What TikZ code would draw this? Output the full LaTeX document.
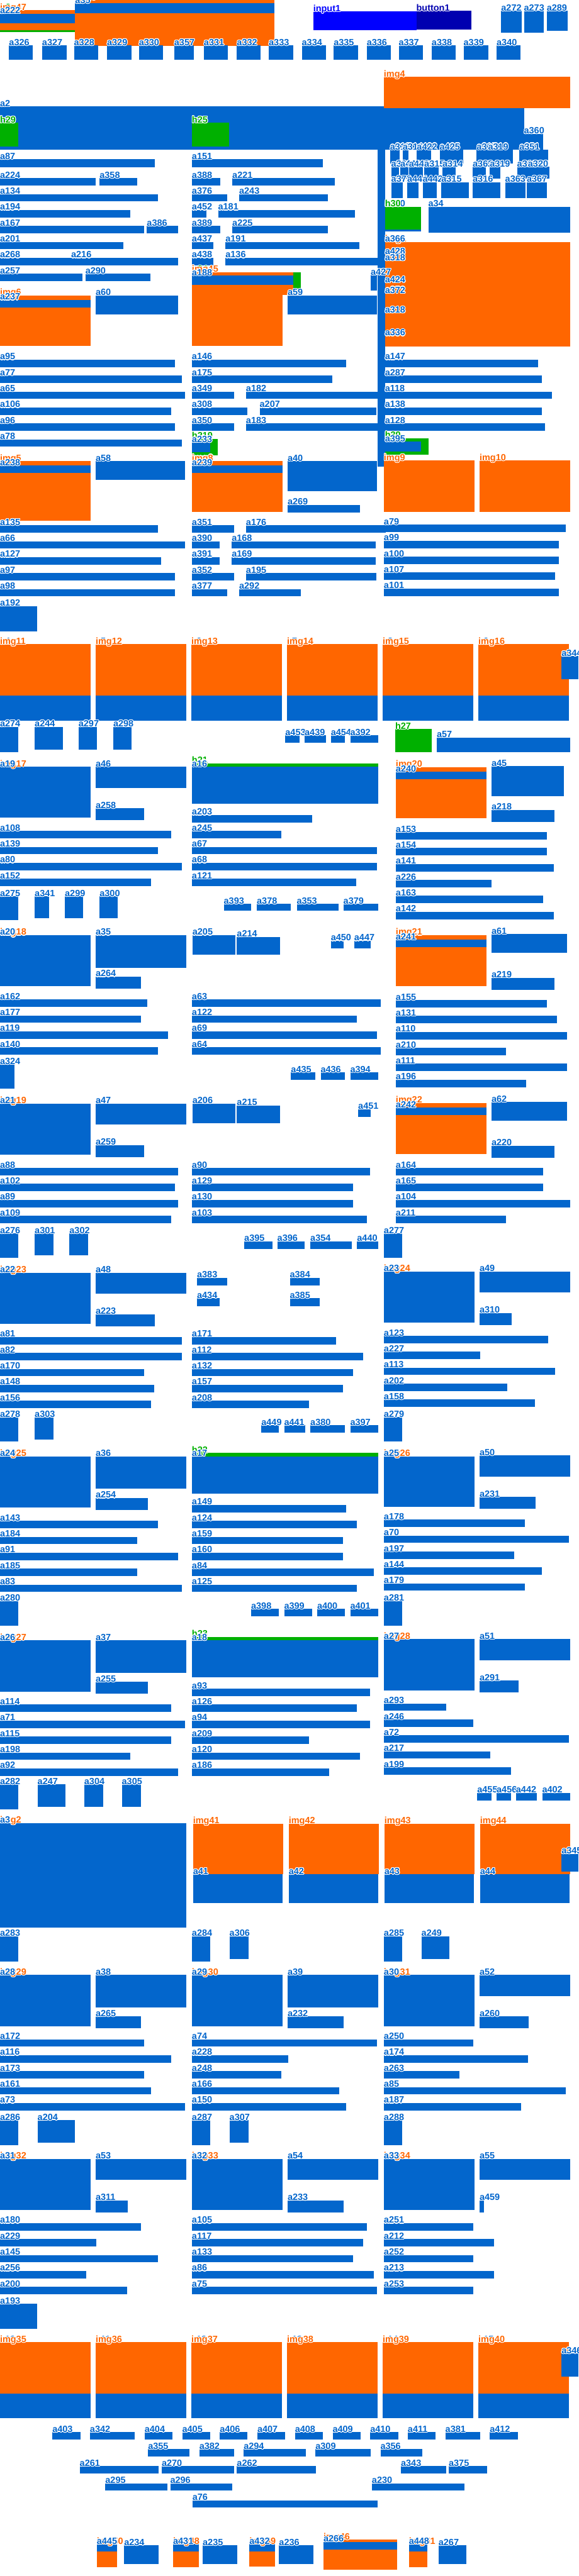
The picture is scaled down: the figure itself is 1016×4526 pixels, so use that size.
\documentclass[tikz,border=0pt]{standalone}
\usepackage{fontspec}
\setmainfont{Liberation Sans}
\usepackage{contour}
\contourlength{1.2pt}
\contournumber{12}
\definecolor{cB}{HTML}{0366CC}
\definecolor{cO}{HTML}{FF6600}
\definecolor{cG}{HTML}{00B000}
\definecolor{cIN}{HTML}{0000FF}
\definecolor{cBT}{HTML}{0000B0}
\tikzset{
 box/.style={inner sep=0pt, outer sep=0pt, draw=none, anchor=north west},
 sB/.style={box, fill=cB}, sO/.style={box, fill=cO}, sG/.style={box, fill=cG},
 sIN/.style={box, fill=cIN}, sBT/.style={box, fill=cBT},
 lbl/.style={inner sep=0pt, outer sep=0pt, anchor=base west, font=\fontsize{16}{16}\selectfont\bfseries},
 lB/.style={lbl, text=cB}, lO/.style={lbl, text=cO}, lG/.style={lbl, text=cG},
 lIN/.style={lbl, text=cIN}, lBT/.style={lbl, text=cBT}
}
\makeatletter
\newcommand\labellist{}
% #1 colour key, #2 name, #3 x1, #4 y1, #5 x2, #6 y2, #7 label
\newcommand\bx[7]{%
 \node[s#1, minimum width={(#5-#3)*1pt}, minimum height={(#6-#4)*1pt}] (#2) at (#3,#4) {};
 \g@addto@macro\labellist{\node[l#1] (#2-l) at (#2.north west) {\contour{white}{#7}};}}
\newcommand\lb[4]{\g@addto@macro\labellist{\node[lB] (#1) at (#2,#3) {\contour{white}{#4}};}}
\makeatother
\newcommand\bb[5]{\bx{B}{#1}{#2}{#3}{#4}{#5}{#1}}
\begin{document}
\begin{tikzpicture}[x=1pt,y=-1pt]
\useasboundingbox (0,0) rectangle (1016,4526);
\fill[white] (0,0) rectangle (1016,4526);
% ---------- top ----------
\bx{G}{h2}{0}{18}{132}{56}{h2}
\bx{O}{img47}{0}{18}{132}{53}{img47}
\bx{B}{a222}{0}{24}{132}{41}{a222}
\bx{O}{img3}{132}{0}{482}{81}{img3}
\bx{B}{a35t}{132}{6}{482}{23}{a35}
\bx{IN}{input1}{550}{20}{731}{53}{input1}
\bx{BT}{button1}{731}{19}{828}{52}{button1}
\bb{a272}{880}{19}{916}{57}
\bb{a273}{920}{19}{955}{57}
\bb{a289}{960}{19}{997}{54}
\bb{a326}{16}{80}{58}{105}
\bb{a327}{74}{80}{117}{105}
\bb{a328}{130}{80}{172}{105}
\bb{a329}{188}{80}{231}{105}
\bb{a330}{244}{80}{286}{105}
\bb{a357}{306}{80}{340}{105}
\bb{a331}{358}{80}{400}{105}
\bb{a332}{416}{80}{458}{105}
\bb{a333}{472}{80}{515}{105}
\bb{a334}{530}{80}{572}{105}
\bb{a335}{586}{80}{629}{105}
\bb{a336}{644}{80}{686}{105}
\bb{a337}{700}{80}{743}{105}
\bb{a338}{758}{80}{800}{105}
\bb{a339}{814}{80}{857}{105}
\bb{a340}{872}{80}{914}{105}
\bb{a2}{0}{187}{920}{263}
\bx{O}{img4}{674}{135}{1001}{190}{img4}
\bb{a360}{920}{235}{954}{263}
\bx{G}{h29}{0}{216}{32}{257}{h29}
\bx{G}{h25}{337}{216}{402}{257}{h25}
% ---------- right column cluster ----------
\bx{B}{av}{663}{263}{676}{820}{}
\bx{B}{r1a}{685}{263}{702}{287}{a313}
\bx{B}{r1b}{707}{263}{717}{287}{a314}
\bx{B}{r1c}{732}{263}{757}{287}{a422}
\bx{B}{r1d}{772}{263}{813}{287}{a425}
\bx{B}{r1e}{837}{263}{857}{287}{a317}
\bx{B}{r1f}{857}{263}{900}{287}{a319}
\bx{B}{r1g}{912}{263}{962}{287}{a351}
\bx{B}{r2a}{687}{293}{700}{314}{a361}
\bx{B}{r2b}{703}{293}{717}{314}{a441}
\bx{B}{r2c}{718}{293}{742}{314}{a443}
\bx{B}{r2d}{745}{293}{770}{314}{a315}
\bx{B}{r2e}{777}{293}{800}{314}{a314}
\bx{B}{r2f}{830}{293}{853}{314}{a362}
\bx{B}{r2g}{860}{293}{878}{314}{a319}
\bx{B}{r2h}{908}{293}{927}{314}{a318}
\bx{B}{r2i}{927}{293}{965}{314}{a320}
\bx{B}{r3a}{687}{320}{707}{348}{a372}
\bx{B}{r3b}{715}{320}{735}{348}{a444}
\bx{B}{r3c}{742}{320}{767}{348}{a442}
\bx{B}{r3d}{775}{320}{823}{348}{a315}
\bx{B}{r3e}{830}{320}{878}{348}{a316}
\bx{B}{r3f}{887}{320}{923}{348}{a363}
\bx{B}{r3g}{925}{320}{960}{348}{a367}
\bx{B}{a369}{676}{363}{739}{407}{a370}
\bx{G}{h30}{676}{363}{739}{403}{h30}
\bb{a34}{752}{363}{1001}{409}
\bx{O}{img1}{676}{425}{1001}{609}{img1}
\lb{a366}{676}{425}{a366}
\lb{a428}{676}{447}{a428}
\lb{a318}{676}{458}{a318}
\lb{a424}{676}{497}{a424}
\lb{a372}{676}{515}{a372}
\lb{a318b}{676}{550}{a318}
\lb{a336b}{676}{590}{a336}
% ---------- block 1 ----------
\bb{a87}{0}{280}{272}{294}
\bb{a151}{337}{280}{567}{294}
\bb{a224}{0}{313}{168}{326}
\bb{a358}{175}{313}{241}{326}
\bb{a388}{337}{313}{387}{326}
\bb{a221}{408}{313}{588}{326}
\bb{a134}{0}{341}{277}{354}
\bb{a376}{337}{341}{399}{354}
\bb{a243}{420}{341}{576}{354}
\bb{a194}{0}{369}{229}{382}
\bb{a452}{337}{369}{362}{382}
\bb{a181}{383}{369}{623}{382}
\bb{a167}{0}{397}{253}{410}
\bb{a386}{258}{397}{313}{410}
\bb{a389}{337}{397}{387}{410}
\bb{a225}{408}{397}{576}{410}
\bb{a201}{0}{425}{217}{438}
\bb{a437}{337}{425}{375}{438}
\bb{a191}{396}{425}{631}{438}
\bb{a268}{0}{453}{313}{466}
\lb{a216}{125}{453}{a216}
\bb{a438}{337}{453}{375}{466}
\bb{a136}{396}{453}{663}{466}
\bb{a257}{0}{481}{145}{494}
\bb{a290}{150}{481}{264}{494}
\bx{G}{h24}{337}{478}{528}{518}{h24}
\bx{O}{img45}{337}{478}{496}{608}{img45}
\bx{O}{img45b}{337}{478}{515}{518}{}
\bb{a188}{337}{484}{515}{501}
\bb{a427}{651}{483}{662}{510}
\bx{O}{img6}{0}{519}{159}{608}{img6}
\bb{a237}{0}{527}{159}{540}
\bb{a60}{168}{519}{313}{552}
\bb{a59}{505}{519}{662}{552}
\bb{a95}{0}{632}{307}{645}
\bb{a146}{337}{632}{608}{645}
\bb{a147}{676}{632}{945}{645}
\bb{a77}{0}{660}{319}{673}
\bb{a175}{337}{660}{583}{673}
\bx{B}{a287t}{676}{660}{951}{673}{a287}
\bb{a65}{0}{688}{325}{701}
\bb{a349}{337}{688}{411}{701}
\bb{a182}{432}{688}{663}{701}
\bb{a118}{676}{688}{969}{701}
\bb{a106}{0}{716}{301}{729}
\bb{a308}{337}{716}{434}{729}
\bb{a207}{456}{716}{661}{729}
\bb{a138}{676}{716}{951}{729}
\bb{a96}{0}{744}{307}{757}
\bb{a350}{337}{744}{411}{757}
\bb{a183}{432}{744}{663}{757}
\bb{a128}{676}{744}{957}{757}
\bb{a78}{0}{772}{319}{785}
\bx{G}{h219}{337}{771}{382}{800}{h219}
\bx{B}{a233t}{337}{777}{369}{794}{a233}
\bx{G}{h39}{676}{770}{752}{799}{h39}
\bx{B}{a395t}{676}{776}{739}{793}{a395}
\bx{O}{img5}{0}{810}{159}{915}{img5}
\bb{a238}{0}{818}{159}{831}
\bb{a58}{168}{810}{325}{843}
\bx{O}{img8}{337}{810}{496}{899}{img8}
\bb{a239}{337}{818}{496}{831}
\bb{a40}{505}{810}{662}{863}
\bb{a269}{505}{887}{632}{900}
\bx{O}{img9}{674}{809}{833}{899}{img9}
\bx{O}{img10}{842}{809}{1001}{899}{img10}
\bb{a135}{0}{923}{277}{936}
\bb{a351}{337}{923}{411}{936}
\bb{a176}{432}{923}{677}{936}
\bb{a79}{674}{922}{993}{935}
\bb{a66}{0}{951}{325}{964}
\bb{a390}{337}{951}{386}{964}
\bb{a168}{407}{951}{660}{964}
\bb{a99}{674}{950}{981}{963}
\bb{a127}{0}{979}{283}{992}
\bb{a391}{337}{979}{386}{992}
\bb{a169}{407}{979}{660}{992}
\bb{a100}{674}{978}{981}{991}
\bb{a97}{0}{1007}{307}{1020}
\bb{a352}{337}{1007}{411}{1020}
\bb{a195}{432}{1007}{661}{1020}
\bb{a107}{674}{1006}{975}{1019}
\bb{a98}{0}{1035}{307}{1048}
\bb{a377}{337}{1035}{399}{1048}
\bb{a292}{420}{1035}{528}{1048}
\bb{a101}{674}{1034}{981}{1047}
\bb{a192}{0}{1065}{65}{1109}
% ---------- image row 1 ----------
\bx{B}{a4}{0}{1132}{159}{1266}{a4}
\bx{O}{img11}{0}{1132}{159}{1222}{img11}
\bx{B}{a5}{168}{1132}{327}{1266}{a5}
\bx{O}{img12}{168}{1132}{327}{1222}{img12}
\bx{B}{a6}{336}{1132}{495}{1266}{a6}
\bx{O}{img13}{336}{1132}{495}{1222}{img13}
\bx{B}{a7}{504}{1132}{663}{1266}{a7}
\bx{O}{img14}{504}{1132}{663}{1222}{img14}
\bx{B}{a8}{672}{1132}{831}{1266}{a8}
\bx{O}{img15}{672}{1132}{831}{1222}{img15}
\bx{B}{a9}{840}{1132}{999}{1266}{a9}
\bx{O}{img16}{840}{1132}{999}{1222}{img16}
\bx{B}{a344}{986}{1153}{1016}{1193}{a344}
\bb{a274}{0}{1277}{32}{1321}
\bb{a244}{61}{1277}{110}{1317}
\bb{a297}{138}{1277}{170}{1317}
\bb{a298}{199}{1277}{231}{1317}
\bb{a453}{501}{1292}{526}{1305}
\bb{a439}{535}{1292}{572}{1305}
\bb{a454}{581}{1292}{606}{1305}
\bb{a392}{615}{1292}{664}{1305}
\bx{G}{h27}{694}{1281}{758}{1322}{h27}
\bb{a57}{767}{1296}{1001}{1321}
% ---------- block 17 ----------
\bx{O}{img17}{0}{1347}{159}{1437}{img17}
\bx{B}{a19}{0}{1347}{159}{1437}{a19}
\bb{a46}{168}{1347}{327}{1384}
\bb{a258}{168}{1420}{253}{1441}
\bx{G}{h21}{337}{1341}{664}{1412}{h21}
\bb{a16}{337}{1347}{664}{1412}
\bx{O}{img20}{695}{1348}{854}{1438}{img20}
\bb{a240}{695}{1356}{854}{1369}
\bb{a45}{863}{1346}{990}{1399}
\bb{a218}{863}{1423}{974}{1444}
\bb{a203}{337}{1432}{548}{1445}
\bb{a108}{0}{1460}{301}{1473}
\bb{a245}{337}{1460}{494}{1473}
\bb{a153}{695}{1462}{960}{1475}
\bb{a139}{0}{1488}{277}{1501}
\bb{a67}{337}{1488}{662}{1501}
\bb{a154}{695}{1490}{960}{1503}
\bb{a80}{0}{1516}{319}{1529}
\bb{a68}{337}{1516}{662}{1529}
\bb{a141}{695}{1518}{972}{1531}
\bb{a152}{0}{1544}{265}{1557}
\bb{a121}{337}{1544}{625}{1557}
\bb{a226}{695}{1546}{863}{1559}
\bb{a163}{695}{1574}{954}{1587}
\bb{a142}{695}{1602}{972}{1615}
\bb{a275}{0}{1575}{32}{1617}
\bb{a341}{61}{1575}{86}{1613}
\bb{a299}{114}{1575}{146}{1613}
\bb{a300}{175}{1575}{207}{1613}
\bb{a393}{393}{1588}{441}{1600}
\bb{a378}{451}{1588}{511}{1600}
\bb{a353}{521}{1588}{594}{1600}
\bb{a379}{603}{1588}{664}{1600}
% ---------- block 18 ----------
\bx{O}{img18}{0}{1643}{159}{1733}{img18}
\bx{B}{a20}{0}{1643}{159}{1733}{a20}
\bb{a35}{168}{1643}{327}{1700}
\bb{a264}{168}{1716}{248}{1737}
\bb{a205}{338}{1643}{413}{1677}
\bb{a214}{416}{1646}{492}{1677}
\bb{a450}{581}{1653}{603}{1666}
\bb{a447}{622}{1653}{651}{1666}
\bx{O}{img21}{695}{1643}{854}{1733}{img21}
\bb{a241}{695}{1651}{854}{1664}
\bb{a61}{863}{1641}{996}{1674}
\bb{a219}{863}{1718}{974}{1739}
\bb{a162}{0}{1756}{259}{1769}
\bb{a63}{337}{1756}{668}{1769}
\bb{a155}{695}{1757}{960}{1770}
\bb{a177}{0}{1784}{247}{1797}
\bb{a122}{337}{1784}{626}{1797}
\bb{a131}{695}{1785}{978}{1798}
\bb{a119}{0}{1812}{295}{1825}
\bb{a69}{337}{1812}{662}{1825}
\bb{a110}{695}{1813}{996}{1826}
\bb{a140}{0}{1840}{277}{1853}
\bb{a64}{337}{1840}{668}{1853}
\bb{a210}{695}{1841}{888}{1854}
\bb{a324}{0}{1870}{25}{1913}
\bb{a435}{511}{1884}{554}{1897}
\bb{a436}{563}{1884}{606}{1897}
\bb{a394}{615}{1884}{664}{1897}
\bb{a111}{695}{1869}{996}{1882}
\bb{a196}{695}{1897}{924}{1910}
% ---------- block 19 ----------
\bx{O}{img19}{0}{1939}{159}{2029}{img19}
\bx{B}{a21}{0}{1939}{159}{2029}{a21}
\bb{a47}{168}{1939}{327}{1976}
\bb{a259}{168}{2012}{253}{2033}
\bb{a206}{338}{1939}{413}{1973}
\bb{a215}{416}{1942}{492}{1973}
\bb{a451}{629}{1949}{651}{1962}
\bx{O}{img22}{695}{1938}{854}{2028}{img22}
\bb{a242}{695}{1946}{854}{1959}
\bb{a62}{863}{1936}{996}{1969}
\bb{a220}{863}{2013}{974}{2034}
\bb{a88}{0}{2052}{313}{2065}
\bb{a90}{337}{2052}{650}{2065}
\bb{a164}{695}{2052}{954}{2065}
\bb{a102}{0}{2080}{307}{2093}
\bb{a129}{337}{2080}{620}{2093}
\bb{a165}{695}{2080}{954}{2093}
\bb{a89}{0}{2108}{313}{2121}
\bb{a130}{337}{2108}{620}{2121}
\bb{a104}{695}{2108}{1001}{2121}
\bb{a109}{0}{2136}{301}{2149}
\bb{a103}{337}{2136}{644}{2149}
\bb{a211}{695}{2136}{888}{2149}
\bb{a276}{0}{2167}{32}{2210}
\bb{a301}{61}{2167}{94}{2206}
\bb{a302}{122}{2167}{155}{2206}
\bx{B}{a395}{429}{2181}{478}{2194}{a395}
\bb{a396}{487}{2181}{535}{2194}
\bb{a354}{545}{2181}{618}{2194}
\bb{a440}{627}{2181}{664}{2194}
\bb{a277}{674}{2167}{706}{2210}
% ---------- block 23 ----------
\bx{O}{img23}{0}{2236}{159}{2326}{img23}
\bx{B}{a22}{0}{2236}{159}{2326}{a22}
\bb{a48}{168}{2236}{327}{2273}
\bb{a223}{168}{2309}{272}{2330}
\bb{a383}{346}{2245}{399}{2259}
\bb{a384}{509}{2245}{561}{2259}
\bb{a434}{346}{2281}{386}{2295}
\bb{a385}{509}{2281}{561}{2295}
\bx{O}{img24}{674}{2234}{833}{2324}{img24}
\bx{B}{a23}{674}{2234}{833}{2324}{a23}
\bb{a49}{842}{2234}{1001}{2271}
\bb{a310}{842}{2307}{898}{2328}
\bb{a81}{0}{2349}{319}{2362}
\bb{a171}{337}{2349}{590}{2362}
\bb{a123}{674}{2347}{962}{2360}
\bb{a82}{0}{2377}{319}{2390}
\bb{a112}{337}{2377}{638}{2390}
\bb{a227}{674}{2375}{843}{2388}
\bb{a170}{0}{2405}{253}{2418}
\bb{a132}{337}{2405}{620}{2418}
\bb{a113}{674}{2403}{975}{2416}
\bb{a148}{0}{2433}{271}{2446}
\bb{a157}{337}{2433}{602}{2446}
\bb{a202}{674}{2431}{891}{2444}
\bb{a156}{0}{2461}{265}{2474}
\bb{a208}{337}{2461}{542}{2474}
\bb{a158}{674}{2459}{939}{2472}
\bb{a278}{0}{2490}{32}{2533}
\bb{a303}{61}{2490}{94}{2529}
\bb{a449}{459}{2504}{490}{2517}
\bb{a441}{499}{2504}{536}{2517}
\bb{a380}{545}{2504}{606}{2517}
\bb{a397}{615}{2504}{664}{2517}
\bb{a279}{674}{2490}{706}{2533}
% ---------- block 25 ----------
\bx{O}{img25}{0}{2559}{159}{2649}{img25}
\bx{B}{a24}{0}{2559}{159}{2649}{a24}
\bb{a36}{168}{2559}{327}{2616}
\bb{a254}{168}{2632}{260}{2653}
\bx{G}{h22}{337}{2553}{664}{2624}{h22}
\bb{a17}{337}{2559}{664}{2624}
\bx{O}{img26}{674}{2559}{833}{2647}{img26}
\bx{B}{a25}{674}{2559}{833}{2647}{a25}
\bb{a50}{842}{2557}{1001}{2594}
\bb{a231}{842}{2630}{940}{2651}
\bb{a149}{337}{2644}{608}{2657}
\bb{a143}{0}{2672}{277}{2685}
\bb{a124}{337}{2672}{626}{2685}
\bb{a178}{674}{2670}{921}{2683}
\bb{a184}{0}{2700}{241}{2713}
\bb{a159}{337}{2700}{602}{2713}
\bb{a70}{674}{2698}{999}{2711}
\bb{a91}{0}{2728}{313}{2741}
\bb{a160}{337}{2728}{602}{2741}
\bb{a197}{674}{2726}{903}{2739}
\bb{a185}{0}{2756}{241}{2769}
\bb{a84}{337}{2756}{656}{2769}
\bb{a144}{674}{2754}{951}{2767}
\bb{a83}{0}{2784}{319}{2797}
\bb{a125}{337}{2784}{626}{2797}
\bb{a179}{674}{2782}{921}{2795}
\bb{a280}{0}{2813}{32}{2856}
\bb{a398}{441}{2827}{489}{2840}
\bb{a399}{499}{2827}{548}{2840}
\bb{a400}{557}{2827}{606}{2840}
\bb{a401}{615}{2827}{664}{2840}
\bb{a281}{674}{2813}{706}{2856}
% ---------- block 27 ----------
\bx{O}{img27}{0}{2882}{159}{2972}{img27}
\bx{B}{a26}{0}{2882}{159}{2972}{a26}
\bb{a37}{168}{2882}{327}{2939}
\bb{a255}{168}{2955}{260}{2976}
\bx{G}{h23}{337}{2876}{664}{2947}{h23}
\bb{a18}{337}{2882}{664}{2947}
\bx{O}{img28}{674}{2880}{833}{2970}{img28}
\bx{B}{a27}{674}{2880}{833}{2970}{a27}
\bb{a51}{842}{2880}{1001}{2917}
\bb{a291}{842}{2953}{910}{2974}
\bb{a93}{337}{2967}{650}{2980}
\bb{a114}{0}{2995}{301}{3008}
\bb{a126}{337}{2995}{626}{3008}
\bb{a293}{674}{2993}{783}{3006}
\bb{a71}{0}{3023}{325}{3036}
\bb{a94}{337}{3023}{650}{3036}
\bb{a246}{674}{3021}{831}{3034}
\bb{a115}{0}{3051}{301}{3064}
\bb{a209}{337}{3051}{542}{3064}
\bb{a72}{674}{3049}{999}{3062}
\bb{a198}{0}{3079}{229}{3092}
\bb{a120}{337}{3079}{632}{3092}
\bb{a217}{674}{3077}{861}{3090}
\bb{a92}{0}{3107}{313}{3120}
\bb{a186}{337}{3107}{578}{3120}
\bb{a199}{674}{3105}{897}{3118}
\bb{a282}{0}{3135}{32}{3179}
\bb{a247}{66}{3135}{115}{3175}
\bb{a304}{148}{3135}{181}{3175}
\bb{a305}{214}{3135}{247}{3175}
\bb{a455}{838}{3150}{863}{3163}
\bb{a456}{872}{3150}{897}{3163}
\bb{a442}{906}{3150}{943}{3163}
\bb{a402}{952}{3150}{1001}{3163}
% ---------- block img2 ----------
\bx{O}{img2}{0}{3203}{327}{3387}{img2}
\bx{B}{a3}{0}{3203}{327}{3387}{a3}
\bx{O}{img41}{339}{3204}{497}{3293}{img41}
\bb{a41}{339}{3293}{496}{3344}
\bx{O}{img42}{507}{3204}{665}{3293}{img42}
\bb{a42}{507}{3293}{664}{3344}
\bx{O}{img43}{675}{3204}{833}{3293}{img43}
\bb{a43}{675}{3293}{832}{3344}
\bx{O}{img44}{843}{3204}{1001}{3293}{img44}
\bb{a44}{843}{3293}{1000}{3344}
\bx{B}{a345}{986}{3257}{1016}{3288}{a345}
\bb{a283}{0}{3402}{32}{3446}
\bb{a284}{337}{3402}{369}{3446}
\bb{a306}{403}{3402}{436}{3442}
\bb{a285}{674}{3402}{706}{3446}
\bb{a249}{740}{3402}{789}{3442}
% ---------- block 29 ----------
\bx{O}{img29}{0}{3470}{159}{3560}{img29}
\bx{B}{a28}{0}{3470}{159}{3560}{a28}
\bb{a38}{168}{3470}{327}{3527}
\bb{a265}{168}{3543}{248}{3564}
\bx{O}{img30}{337}{3470}{496}{3560}{img30}
\bx{B}{a29}{337}{3470}{496}{3560}{a29}
\bb{a39}{505}{3470}{664}{3527}
\bb{a232}{505}{3543}{603}{3564}
\bx{O}{img31}{674}{3470}{833}{3560}{img31}
\bx{B}{a30}{674}{3470}{833}{3560}{a30}
\bb{a52}{842}{3470}{1001}{3507}
\bb{a260}{842}{3543}{928}{3564}
\bb{a172}{0}{3583}{253}{3596}
\bb{a74}{337}{3583}{662}{3596}
\bb{a250}{674}{3583}{831}{3596}
\bb{a116}{0}{3611}{301}{3624}
\bb{a228}{337}{3611}{506}{3624}
\bb{a174}{674}{3611}{927}{3624}
\bb{a173}{0}{3639}{253}{3652}
\bb{a248}{337}{3639}{494}{3652}
\bb{a263}{674}{3639}{807}{3652}
\bb{a161}{0}{3667}{265}{3680}
\bb{a166}{337}{3667}{596}{3680}
\bb{a85}{674}{3667}{993}{3680}
\bb{a73}{0}{3695}{325}{3708}
\bb{a150}{337}{3695}{608}{3708}
\bb{a187}{674}{3695}{915}{3708}
\bb{a286}{0}{3725}{32}{3769}
\bb{a204}{66}{3725}{131}{3765}
\bb{a287}{337}{3725}{369}{3769}
\bb{a307}{403}{3725}{436}{3765}
\bb{a288}{674}{3725}{706}{3769}
% ---------- block 32 ----------
\bx{O}{img32}{0}{3793}{159}{3883}{img32}
\bx{B}{a31}{0}{3793}{159}{3883}{a31}
\bb{a53}{168}{3793}{327}{3830}
\bb{a311}{168}{3866}{224}{3887}
\bx{O}{img33}{337}{3793}{496}{3883}{img33}
\bx{B}{a32}{337}{3793}{496}{3883}{a32}
\bb{a54}{505}{3793}{664}{3830}
\bb{a233}{505}{3866}{603}{3887}
\bx{O}{img34}{674}{3793}{833}{3883}{img34}
\bx{B}{a33}{674}{3793}{833}{3883}{a33}
\bb{a55}{842}{3793}{1001}{3830}
\bb{a459}{842}{3866}{850}{3887}
\bb{a180}{0}{3906}{247}{3919}
\bb{a105}{337}{3906}{644}{3919}
\bb{a251}{674}{3906}{831}{3919}
\bb{a229}{0}{3934}{169}{3947}
\bb{a117}{337}{3934}{638}{3947}
\bb{a212}{674}{3934}{867}{3947}
\bb{a145}{0}{3962}{277}{3975}
\bb{a133}{337}{3962}{620}{3975}
\bb{a252}{674}{3962}{831}{3975}
\bb{a256}{0}{3990}{151}{4003}
\bb{a86}{337}{3990}{656}{4003}
\bb{a213}{674}{3990}{867}{4003}
\bb{a200}{0}{4018}{223}{4031}
\bb{a75}{337}{4018}{662}{4031}
\bb{a253}{674}{4018}{831}{4031}
\bb{a193}{0}{4048}{65}{4092}
% ---------- image row 2 ----------
\bx{B}{a10}{0}{4115}{159}{4249}{a10}
\bx{O}{img35}{0}{4115}{159}{4205}{img35}
\bx{B}{a11}{168}{4115}{327}{4249}{a11}
\bx{O}{img36}{168}{4115}{327}{4205}{img36}
\bx{B}{a12}{336}{4115}{495}{4249}{a12}
\bx{O}{img37}{336}{4115}{495}{4205}{img37}
\bx{B}{a13}{504}{4115}{663}{4249}{a13}
\bx{O}{img38}{504}{4115}{663}{4205}{img38}
\bx{B}{a14}{672}{4115}{831}{4249}{a14}
\bx{O}{img39}{672}{4115}{831}{4205}{img39}
\bx{B}{a15}{840}{4115}{999}{4249}{a15}
\bx{O}{img40}{840}{4115}{999}{4205}{img40}
\bx{B}{a346}{986}{4135}{1016}{4176}{a346}
\bb{a403}{92}{4273}{141}{4286}
\bb{a342}{158}{4273}{237}{4286}
\bb{a404}{254}{4273}{303}{4286}
\bb{a405}{320}{4273}{369}{4286}
\bb{a406}{386}{4273}{434}{4286}
\bb{a407}{452}{4273}{501}{4286}
\bb{a408}{518}{4273}{567}{4286}
\bb{a409}{584}{4273}{633}{4286}
\bb{a410}{650}{4273}{699}{4286}
\bb{a411}{716}{4273}{765}{4286}
\bb{a381}{782}{4273}{843}{4286}
\bb{a412}{860}{4273}{909}{4286}
\bb{a355}{260}{4303}{333}{4316}
\bb{a382}{350}{4303}{411}{4316}
\bb{a294}{428}{4303}{537}{4316}
\bb{a309}{554}{4303}{651}{4316}
\bb{a356}{668}{4303}{741}{4316}
\bb{a261}{140}{4333}{279}{4346}
\bb{a270}{284}{4333}{411}{4346}
\bb{a262}{416}{4333}{555}{4346}
\bb{a343}{704}{4333}{783}{4346}
\bb{a375}{788}{4333}{855}{4346}
\bb{a295}{185}{4363}{294}{4376}
\bb{a296}{299}{4363}{408}{4376}
\bb{a230}{653}{4363}{815}{4376}
\bb{a76}{338}{4393}{663}{4406}
% ---------- bottom row ----------
\bx{O}{img50}{170}{4470}{206}{4510}{img50}
\bx{B}{a445}{170}{4470}{206}{4483}{a445}
\bb{a234}{218}{4472}{279}{4505}
\bx{O}{img48}{304}{4470}{349}{4511}{img48}
\bx{B}{a431}{304}{4470}{349}{4483}{a431}
\bb{a235}{356}{4472}{417}{4505}
\bx{O}{img49}{438}{4470}{483}{4509}{img49}
\bx{B}{a432}{438}{4470}{483}{4483}{a432}
\bb{a236}{490}{4472}{550}{4505}
\bx{O}{img46}{568}{4462}{697}{4515}{img46}
\bx{B}{a266}{568}{4466}{697}{4479}{a266}
\bx{O}{img51}{718}{4470}{750}{4511}{img51}
\bx{B}{a448}{718}{4470}{750}{4483}{a448}
\bb{a267}{770}{4472}{819}{4505}
% ---------- labels on top ----------
\labellist
\end{tikzpicture}
\end{document}
